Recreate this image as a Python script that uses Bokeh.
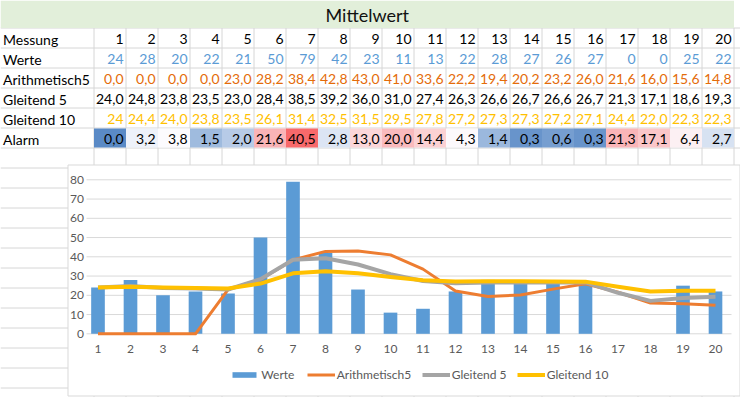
from bokeh.plotting import figure
from bokeh.models import ColumnDataSource, Range1d, Legend, LegendItem
from bokeh.embed import file_html
from bokeh.resources import INLINE
from bokeh.core.properties import value

# ---------------- data ----------------
messung = [1, 2, 3, 4, 5, 6, 7, 8, 9, 10, 11, 12, 13, 14, 15, 16, 17, 18, 19, 20]
werte = [24, 28, 20, 22, 21, 50, 79, 42, 23, 11, 13, 22, 28, 27, 26, 27, 0, 0, 25, 22]
arith5 = [0.0, 0.0, 0.0, 0.0, 23.0, 28.2, 38.4, 42.8, 43.0, 41.0, 33.6, 22.2,
          19.4, 20.2, 23.2, 26.0, 21.6, 16.0, 15.6, 14.8]
gleit5 = [24.0, 24.8, 23.8, 23.5, 23.0, 28.4, 38.5, 39.2, 36.0, 31.0, 27.4, 26.3,
          26.6, 26.7, 26.6, 26.7, 21.3, 17.1, 18.6, 19.3]
gleit10 = [24, 24.4, 24.0, 23.8, 23.5, 26.1, 31.4, 32.5, 31.5, 29.5, 27.8, 27.2,
           27.3, 27.3, 27.2, 27.1, 24.4, 22.0, 22.3, 22.3]
alarm = [0.0, 3.2, 3.8, 1.5, 2.0, 21.6, 40.5, 2.8, 13.0, 20.0, 14.4, 4.3,
         1.4, 0.3, 0.6, 0.3, 21.3, 17.1, 6.4, 2.7]
row_labels = ["Messung", "Werte", "Arithmetisch5", "Gleitend 5", "Gleitend 10", "Alarm"]
y_ticks = [0, 10, 20, 30, 40, 50, 60, 70, 80]
title_text = "Mittelwert"

# ---------------- styles ----------------
FONT = "Lato"
GRID = "#d9d9d9"
CELL_GRID = "#d6d6d6"
C_BAR = "#5B9BD5"
C_AR = "#ED7D31"
C_G5 = "#A5A5A5"
C_G10 = "#FFC000"
AX_TXT = "#595959"
TXT_COLORS = ["#000000", "#5B9BD5", "#E46C0A", "#000000", "#FFC000", "#000000"]


def fmt(v):
    if isinstance(v, int):
        return str(v)
    return f"{v:.1f}".replace(".", ",")


def hex2rgb(h):
    h = h.lstrip("#")
    return tuple(int(h[i:i + 2], 16) for i in (0, 2, 4))


def lerp(c0, c1, t):
    a, b = hex2rgb(c0), hex2rgb(c1)
    return "#%02x%02x%02x" % tuple(int(round(a[i] + (b[i] - a[i]) * t)) for i in range(3))


def color_scale(vals):
    lo, hi = min(vals), max(vals)
    s = sorted(vals)
    n = len(s)
    mid = (s[n // 2 - 1] + s[n // 2]) / 2 if n % 2 == 0 else s[n // 2]
    out = []
    for v in vals:
        if v <= mid:
            out.append(lerp("#5A8AC6", "#FCFCFF", (v - lo) / (mid - lo)))
        else:
            out.append(lerp("#FCFCFF", "#F8696B", (v - mid) / (hi - mid)))
    return out


# ---------------- page geometry (pixels) ----------------
W, H = 740, 397
COL_A = 93.5
COL_W = 32
ROW_TOP = 27.5
ROW_H = 20
NCOL = len(messung)
BOX_L, BOX_T, BOX_R, BOX_B = 67.5, 164.5, 739.5, 395.5
PLOT_L, PLOT_R = 86, 731
Y0_PX, PX_PER_UNIT = 333.3, 1.925          # value 0 at y=333.3, 80 at y=179.3
CAT1_PX, CAT_STEP = 97.5, 32.5             # category 1 centre, spacing

p = figure(width=W, height=H, x_range=Range1d(0, W), y_range=Range1d(H, 0),
           output_backend="svg", toolbar_location=None, min_border=0,
           x_axis_location=None, y_axis_location=None)
p.grid.visible = False
p.outline_line_color = None
p.background_fill_color = "white"

# chart scales (data units), mapped onto the full canvas
p.extra_x_ranges = {"cx": Range1d(1 - CAT1_PX / CAT_STEP, 1 + (W - CAT1_PX) / CAT_STEP)}
p.extra_y_ranges = {"cy": Range1d((Y0_PX - H) / PX_PER_UNIT, Y0_PX / PX_PER_UNIT)}

# ---- spreadsheet grid ----
hy = [ROW_TOP + ROW_H * k for k in range(19)]
p.segment(x0=[0] * len(hy), x1=[W] * len(hy), y0=hy, y1=hy, line_color=CELL_GRID, line_width=1)
vx = [COL_A + COL_W * k for k in range(NCOL + 1)]
p.segment(x0=vx, x1=vx, y0=[ROW_TOP] * len(vx), y1=[H] * len(vx), line_color=CELL_GRID, line_width=1)

# title band
p.quad(left=[0], right=[COL_A + COL_W * NCOL], top=[0], bottom=[ROW_TOP],
       fill_color="#E2EFDA", line_color=None)

# alarm cell colours (3-colour scale)
lefts = [COL_A + COL_W * i for i in range(NCOL)]
rights = [l + COL_W for l in lefts]
a_top = ROW_TOP + ROW_H * 5
p.quad(left=lefts, right=rights, top=[a_top + 0.5] * NCOL, bottom=[a_top + ROW_H - 0.5] * NCOL,
       fill_color=color_scale(alarm), line_color=None)

# title
p.text(x=[366.7], y=[14], text=[title_text], text_font=value(FONT), text_font_size="18px",
       text_align="center", text_baseline="middle", text_color="#111111")

# row labels
ly = [ROW_TOP + ROW_H * i + 11.2 for i in range(len(row_labels))]
p.text(x=[2.5] * len(row_labels), y=ly, text=row_labels, text_font=value(FONT),
       text_font_size="14px", text_align="left", text_baseline="middle", text_color="#000000")

# cell values
rows_data = [messung, werte, arith5, gleit5, gleit10, alarm]
for i, vals in enumerate(rows_data):
    src = ColumnDataSource(dict(x=[r - 2.5 for r in rights], y=[ly[i]] * NCOL,
                                t=[fmt(v) for v in vals]))
    p.text(x="x", y="y", text="t", source=src, text_font=value(FONT), text_font_size="14px",
           text_align="right", text_baseline="middle", text_color=TXT_COLORS[i])

# ---- chart box ----
p.quad(left=[BOX_L], right=[BOX_R], top=[BOX_T], bottom=[BOX_B],
       fill_color="white", line_color=GRID, line_width=1)

# horizontal value grid lines
p.segment(x0=[PLOT_L] * len(y_ticks), x1=[PLOT_R] * len(y_ticks), y0=y_ticks, y1=y_ticks,
          y_range_name="cy", line_color=GRID, line_width=1)

# value axis labels
p.text(x=[83.5] * len(y_ticks), y=y_ticks, text=[str(t) for t in y_ticks], y_range_name="cy",
       text_font=value(FONT), text_font_size="12px", text_align="right", text_baseline="middle",
       text_color=AX_TXT)
# category axis labels
p.text(x=messung, y=[348] * NCOL, text=[str(m) for m in messung], x_range_name="cx",
       text_font=value(FONT), text_font_size="12px", text_align="center", text_baseline="middle",
       text_color=AX_TXT)

# series
r_bar = p.vbar(x=messung, top=werte, bottom=0, width=0.42, x_range_name="cx", y_range_name="cy",
               fill_color=C_BAR, line_color=None)
r_ar = p.line(messung, arith5, x_range_name="cx", y_range_name="cy",
              line_color=C_AR, line_width=3, line_join="round")
r_g5 = p.line(messung, gleit5, x_range_name="cx", y_range_name="cy",
              line_color=C_G5, line_width=4, line_join="round")
r_g10 = p.line(messung, gleit10, x_range_name="cx", y_range_name="cy",
               line_color=C_G10, line_width=4, line_join="round")

# legend: one entry per legend, placed like the original
LEG_Y = H - 382  # bottom offset of legend boxes
for label, rend, x_left, gw in [("Werte", r_bar, 229.3, 30),
                                ("Arithmetisch5", r_ar, 306.7, 28),
                                ("Gleitend 5", r_g5, 421.7, 28),
                                ("Gleitend 10", r_g10, 516.7, 28)]:
    lg = Legend(items=[LegendItem(label=label, renderers=[rend])], location=(x_left, LEG_Y),
                orientation="horizontal", label_text_font=FONT, label_text_font_size="12px",
                label_text_color=AX_TXT, glyph_width=gw, glyph_height=7, label_height=7,
                label_standoff=2, padding=0, margin=0, spacing=0,
                border_line_color=None, background_fill_alpha=0)
    p.add_layout(lg)

open("out.html", "w").write(file_html(p, INLINE, "Mittelwert"))
